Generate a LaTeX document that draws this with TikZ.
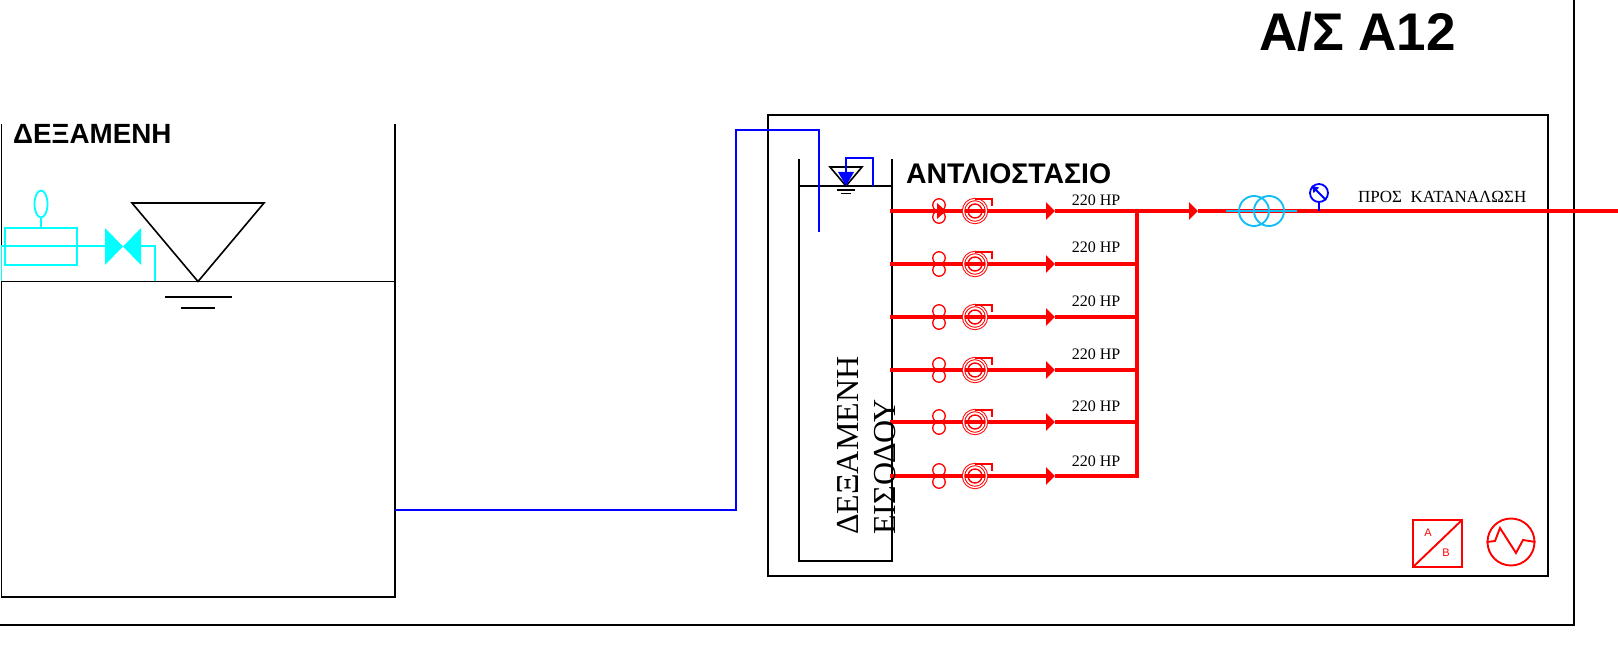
\documentclass[tikz,border=0pt]{standalone}
\usepackage{fontspec}
\setmainfont{Liberation Sans}
\newfontfamily\grserif{Liberation Serif}
\definecolor{pipeblue}{RGB}{0, 0, 255}
\definecolor{meshcyan}{RGB}{0, 255, 255}
\definecolor{trafoblue}{RGB}{20, 190, 245}
\usetikzlibrary{arrows.meta, shapes.geometric}

\tikzset{
  wall/.style={draw=black, line width=1.9pt},
  thinwall/.style={draw=black, line width=1.6pt},
  bluepipe/.style={draw=pipeblue, line width=1.8pt},
  cyanline/.style={draw=meshcyan, line width=1.8pt},
  redline/.style={draw=red, line width=1.9pt},
  pipe/.style={draw=red, line width=4pt},
  pipeflow/.style={pipe, -{Triangle[length=9pt, width=17pt]}},
  header/.style={draw=red, line width=3.6pt},
  valvering/.style={circle, draw=red, line width=1.3pt, inner sep=0pt, minimum size=12.5pt},
  pumpcase/.style={circle, draw=red, line width=1pt, double=white, double distance=1.3pt, inner sep=0pt, minimum size=23pt},
  pumpcore/.style={circle, draw=red, line width=1.4pt, inner sep=0pt, minimum size=14pt},
  volute/.style={draw=red, line width=1.2pt},
  hplabel/.style={font=\grserif\fontsize{16}{16}\selectfont, inner sep=0pt},
  trafo/.style={circle, draw=trafoblue, line width=1.9pt, inner sep=0pt, minimum size=30pt},
  title/.style={font=\bfseries\fontsize{27.8}{27.8}\selectfont, inner sep=0pt, anchor=west},
  tanklabel/.style={font=\grserif\fontsize{32}{32}\selectfont, inner sep=0pt, rotate=90, anchor=base west},
}

\begin{document}
\begin{tikzpicture}[x=1pt, y=-1pt]
  \useasboundingbox (0,0) rectangle (1618,652);

  % frames
  \draw [wall] (0,625) -- (1574,625) -- (1574,0);
  \draw [thinwall] (768,115) rectangle (1548,576);

  % left tank
  \draw [wall] (1.5,124) -- (1.5,597) -- (395,597) -- (395,124);
  \draw [thinwall] (1.5,281.5) -- (395,281.5);
  \draw [thinwall] (132,203) -- (264,203) -- (198,281.5) -- cycle;
  \draw [thinwall] (165,297) -- (232,297);
  \draw [thinwall] (181,308) -- (215,308);
  \node [title] (tank_title) at (13,134) {ΔΕΞΑΜΕΝΗ};

  % float valve
  \draw [cyanline] (5,228) rectangle (77,265);
  \node [ellipse, draw=meshcyan, line width=1.8pt, inner sep=0pt, minimum width=13pt, minimum height=27pt] (float) at (41,204) {};
  \coordinate (act_top) at (41,228);
  \coordinate (val_l) at (105,246);
  \coordinate (val_r) at (141,246);
  \coordinate (drop_l) at (1.5,246);
  \coordinate (drop_r) at (155,246);
  \draw [cyanline] (float.south) -- (act_top);
  \draw [cyanline] (1.5,281) -- (drop_l) -- (val_l);
  \draw [cyanline] (val_r) -- (drop_r) -- (155,281);
  \fill [meshcyan] (105,228) -- (141,265) -- (141,228) -- (105,265) -- cycle;

  % inlet tank
  \draw [wall] (799,159) -- (799,561) -- (892,561) -- (892,159);
  \draw [thinwall] (799,186) -- (892,186);
  \draw [thinwall] (830,167) -- (862,167) -- (846,186) -- cycle;
  \draw [thinwall] (837,190) -- (855,190);
  \draw [thinwall] (841,193.5) -- (851,193.5);
  \fill [pipeblue] (838,172) -- (854,172) -- (846,186) -- cycle;
  \draw [bluepipe] (846,172) -- (846,158) -- (873,158) -- (873,186);
  \node [title, font=\bfseries\fontsize{28.4}{28.4}\selectfont] (house_title) at (906,174) {ΑΝΤΛΙΟΣΤΑΣΙΟ};
  \node [title, font=\bfseries\fontsize{53}{53}\selectfont] (main_title) at (1259,32) {Α/Σ Α12};

  % blue pipe between the tanks
  \coordinate (B_0) at (395,510);
  \coordinate (B_1) at (736,510);
  \coordinate (B_2) at (736,130);
  \coordinate (B_3) at (819,130);
  \coordinate (B_4) at (819,232);
  \draw [bluepipe] (B_0) -- (B_1) -- (B_2) -- (B_3) -- (B_4);

  % pipe ends
  \coordinate (S_1) at (890,211);
  \coordinate (S_2) at (890,264);
  \coordinate (S_3) at (890,317);
  \coordinate (S_4) at (890,370);
  \coordinate (S_5) at (890,422);
  \coordinate (S_6) at (890,476);
  \coordinate (F_1) at (1055,211);
  \coordinate (F_2) at (1055,264);
  \coordinate (F_3) at (1055,317);
  \coordinate (F_4) at (1055,370);
  \coordinate (F_5) at (1055,422);
  \coordinate (F_6) at (1055,476);
  \coordinate (J_1) at (1137,211);
  \coordinate (J_2) at (1137,264);
  \coordinate (J_3) at (1137,317);
  \coordinate (J_4) at (1137,370);
  \coordinate (J_5) at (1137,422);
  \coordinate (J_6) at (1137,476);
  \coordinate (F_7) at (1198,211);
  \coordinate (out) at (1618,211);

  \path (S_1) edge [pipeflow] (F_1)
        (S_2) edge [pipeflow] (F_2)
        (S_3) edge [pipeflow] (F_3)
        (S_4) edge [pipeflow] (F_4)
        (S_5) edge [pipeflow] (F_5)
        (S_6) edge [pipeflow] (F_6)
        (F_1) edge [header] (J_1)
        (F_2) edge [header] (J_2)
        (F_3) edge [header] (J_3)
        (F_4) edge [header] (J_4)
        (F_5) edge [header] (J_5)
        (F_6) edge [header] (J_6)
        (J_1) edge [pipeflow] (F_7)
        (F_7) edge [pipe] (out)
        ;
  \draw [header, line cap=rect] (J_1) -- (J_6);

  % valves
  \node [valvering] (V_1a) at (939,205) {};
  \node [valvering] (V_1b) at (939,217) {};
  \node [valvering] (V_2a) at (939,258) {};
  \node [valvering] (V_2b) at (939,270) {};
  \node [valvering] (V_3a) at (939,311) {};
  \node [valvering] (V_3b) at (939,323) {};
  \node [valvering] (V_4a) at (939,364) {};
  \node [valvering] (V_4b) at (939,376) {};
  \node [valvering] (V_5a) at (939,416) {};
  \node [valvering] (V_5b) at (939,428) {};
  \node [valvering] (V_6a) at (939,470) {};
  \node [valvering] (V_6b) at (939,482) {};
  \fill [red] (937,203) -- (946,211) -- (937,219) -- cycle;

  % pumps
  \node [pumpcase] (Q_1) at (975,211) {};
  \node [pumpcase] (Q_2) at (975,264) {};
  \node [pumpcase] (Q_3) at (975,317) {};
  \node [pumpcase] (Q_4) at (975,370) {};
  \node [pumpcase] (Q_5) at (975,422) {};
  \node [pumpcase] (Q_6) at (975,476) {};
  \node [pumpcore] at (Q_1) {};
  \node [pumpcore] at (Q_2) {};
  \node [pumpcore] at (Q_3) {};
  \node [pumpcore] at (Q_4) {};
  \node [pumpcore] at (Q_5) {};
  \node [pumpcore] at (Q_6) {};
  \draw [volute] (Q_1.north) -- ++(17,0) -- ++(0,7);
  \draw [volute] (Q_2.north) -- ++(17,0) -- ++(0,7);
  \draw [volute] (Q_3.north) -- ++(17,0) -- ++(0,7);
  \draw [volute] (Q_4.north) -- ++(17,0) -- ++(0,7);
  \draw [volute] (Q_5.north) -- ++(17,0) -- ++(0,7);
  \draw [volute] (Q_6.north) -- ++(17,0) -- ++(0,7);

  \node [hplabel] (P_1) at (1096,200) {220 HP};
  \node [hplabel] (P_2) at (1096,247) {220 HP};
  \node [hplabel] (P_3) at (1096,301) {220 HP};
  \node [hplabel] (P_4) at (1096,354) {220 HP};
  \node [hplabel] (P_5) at (1096,406) {220 HP};
  \node [hplabel] (P_6) at (1096,461) {220 HP};

  \node [tanklabel] (tank_a) at (858,535) {ΔΕΞΑΜΕΝΗ};
  \node [tanklabel] (tank_b) at (895,535) {ΕΙΣΟΔΟΥ};

  % flow meter and gauge on the main
  \node [trafo] (T_1) at (1254,211) {};
  \node [trafo] (T_2) at (1269,211) {};
  \draw [draw=trafoblue, line width=1.8pt] (1226,211) -- (1297,211);
  \node [circle, draw=pipeblue, line width=1.8pt, inner sep=0pt, minimum size=18pt] (G) at (1319,193) {};
  \coordinate (G_foot) at (1319,211);
  \draw [bluepipe] (G.south) -- (G_foot);
  \draw [bluepipe] (G.north west) -- (G.south east);
  \fill [pipeblue] (G.north west) -- ++(7,1.5) -- ++(-5.5,5.5) -- cycle;
  \node [font=\grserif\fontsize{17}{17}\selectfont, inner sep=0pt, anchor=west] (dest) at (1358,197) {ΠΡΟΣ\ \ ΚΑΤΑΝΑΛΩΣΗ};

  % inverter and sine source
  \draw [redline] (1413,520) rectangle (1462,567);
  \draw [redline] (1413,567) -- (1462,520);
  \node [text=red, font=\fontsize{11}{11}\selectfont, inner sep=0pt] (conv_a) at (1428,533) {A};
  \node [text=red, font=\fontsize{11}{11}\selectfont, inner sep=0pt] (conv_b) at (1446,553) {B};
  \node [circle, draw=red, line width=1.9pt, inner sep=0pt, minimum size=47pt] (wave) at (1511,542) {};
  \draw [redline] (wave.west) -- (1495,541) -- (1500,528) -- (1516,553) -- (1523,540) -- (wave.east);
\end{tikzpicture}
\end{document}
